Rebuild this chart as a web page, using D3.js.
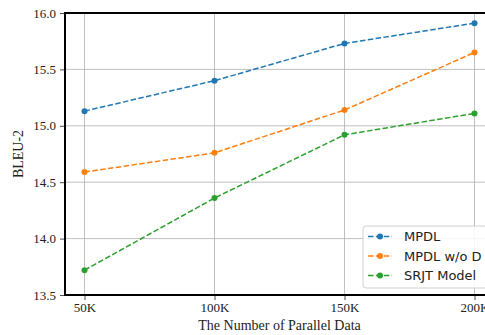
<!DOCTYPE html>
<html>
<head>
<meta charset="utf-8">
<script src="https://cdn.jsdelivr.net/npm/d3@7"></script>
<style>
body { margin: 0; background: #fff; }
svg { display: block; }
</style>
</head>
<body>
<div id="chart"></div>
<script>
// data
var categories = ["50K", "100K", "150K", "200K"];
var mpdl = [15.13, 15.40, 15.73, 15.91];
var mpdlNoD = [14.59, 14.76, 15.14, 15.65];
var srjt = [13.72, 14.36, 14.92, 15.11];
var yTicks = [13.5, 14.0, 14.5, 15.0, 15.5, 16.0];
var seriesNames = ["MPDL", "MPDL w/o D", "SRJT Model"];

var width = 485, height = 335;
var plotL = 65, plotT = 13, plotB = 295, plotR = 494;

var svg = d3.select("#chart").append("svg")
	.attr("width", width).attr("height", height);

var x = d3.scalePoint().domain(categories)
	.range([plotL, plotR]).padding(0.15);
var y = d3.scaleLinear().domain([13.5, 16.0]).range([plotB, plotT]);

var colors = ["#1f77b4", "#ff7f0e", "#2ca02c"];
var allSeries = [mpdl, mpdlNoD, srjt];

// grid
var grid = svg.append("g");
grid.selectAll("line.gx").data(categories).enter().append("line")
	.attr("x1", function(d){ return x(d); }).attr("x2", function(d){ return x(d); })
	.attr("y1", plotT).attr("y2", plotB)
	.attr("stroke", "#b0b0b0").attr("stroke-width", 0.8);
grid.selectAll("line.gy").data(yTicks).enter().append("line")
	.attr("x1", plotL).attr("x2", plotR)
	.attr("y1", function(d){ return y(d); }).attr("y2", function(d){ return y(d); })
	.attr("stroke", "#b0b0b0").attr("stroke-width", 0.8);

// lines + markers
var line = d3.line()
	.x(function(d, i){ return x(categories[i]); })
	.y(function(d){ return y(d); });

allSeries.forEach(function(s, k){
	svg.append("path").datum(s)
		.attr("d", line)
		.attr("fill", "none")
		.attr("stroke", colors[k])
		.attr("stroke-width", 1.5)
		.attr("stroke-dasharray", "5.5,2.4");
	svg.selectAll("circle.s" + k).data(s).enter().append("circle")
		.attr("class", "s" + k)
		.attr("cx", function(d, i){ return x(categories[i]); })
		.attr("cy", function(d){ return y(d); })
		.attr("r", 3)
		.attr("fill", colors[k]);
});

// axes
var yAxis = svg.append("g").attr("transform", "translate(" + plotL + ",0)")
	.call(d3.axisLeft(y).tickValues(yTicks).tickFormat(d3.format(".1f")).tickSize(5).tickPadding(4));
var xAxis = svg.append("g").attr("transform", "translate(0," + plotB + ")")
	.call(d3.axisBottom(x).tickSize(5).tickPadding(3));
[yAxis, xAxis].forEach(function(a){
	a.select(".domain").remove();
	a.selectAll("text").attr("font-family", "'Liberation Serif', 'Times New Roman', serif")
		.attr("font-size", 13).attr("fill", "#222");
	a.selectAll(".tick line").attr("stroke", "#222").attr("stroke-width", 0.8);
});

// spines
svg.append("line").attr("x1", plotL).attr("x2", plotL).attr("y1", plotT - 1).attr("y2", plotB + 1)
	.attr("stroke", "#000").attr("stroke-width", 2);
svg.append("line").attr("x1", plotL).attr("x2", width).attr("y1", plotT).attr("y2", plotT)
	.attr("stroke", "#000").attr("stroke-width", 2);
svg.append("line").attr("x1", plotL).attr("x2", width).attr("y1", plotB).attr("y2", plotB)
	.attr("stroke", "#000").attr("stroke-width", 2);

// labels
svg.append("text").attr("x", (plotL + plotR) / 2).attr("y", 330)
	.attr("text-anchor", "middle")
	.attr("font-family", "'Liberation Serif', 'Times New Roman', serif")
	.attr("font-size", 14).attr("fill", "#222")
	.text("The Number of Parallel Data");
svg.append("text")
	.attr("transform", "translate(23," + ((plotT + plotB) / 2) + ") rotate(-90)")
	.attr("text-anchor", "middle")
	.attr("font-family", "'Liberation Serif', 'Times New Roman', serif")
	.attr("font-size", 14).attr("fill", "#222")
	.text("BLEU-2");

// legend
var lg = svg.append("g").attr("transform", "translate(363,226)");
lg.append("rect").attr("width", 140).attr("height", 62).attr("rx", 3)
	.attr("fill", "#fff").attr("fill-opacity", 0.85)
	.attr("stroke", "#d0d0d0").attr("stroke-width", 1);
seriesNames.forEach(function(n, k){
	var yy = 10.5 + k * 19.5;
	lg.append("line").attr("x1", 5).attr("x2", 29).attr("y1", yy).attr("y2", yy)
		.attr("stroke", colors[k]).attr("stroke-width", 1.5)
		.attr("stroke-dasharray", "5.5,2.4");
	lg.append("circle").attr("cx", 17).attr("cy", yy).attr("r", 3).attr("fill", colors[k]);
	lg.append("text").attr("x", 41).attr("y", yy + 4.5)
		.attr("font-family", "'DejaVu Sans', sans-serif")
		.attr("font-size", 13).attr("fill", "#222")
		.text(n);
});
</script>
</body>
</html>
